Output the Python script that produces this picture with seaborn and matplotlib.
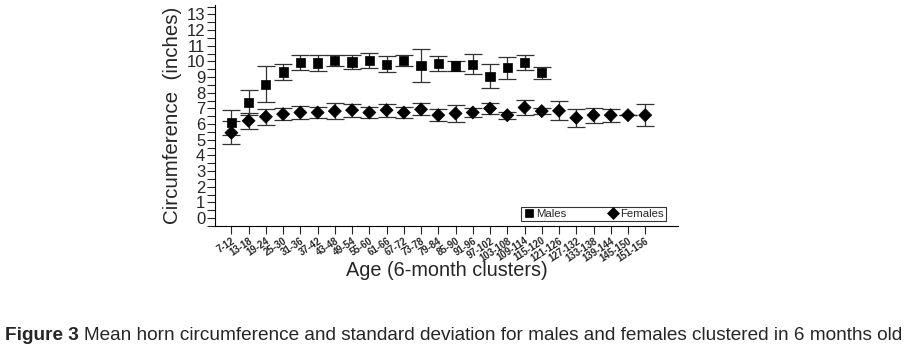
import seaborn as sns
import matplotlib.pyplot as plt
import pandas as pd
from matplotlib.ticker import MultipleLocator

# age clusters (months)
ages = ['7-12', '13-18', '19-24', '25-30', '31-36', '37-42', '43-48', '49-54',
        '55-60', '61-66', '67-72', '73-78', '79-84', '85-90', '91-96', '97-102',
        '103-108', '109-114', '115-120', '121-126', '127-132', '133-138',
        '139-144', '145-150', '151-156']

# males only measured up to 115-120
male_mean = [6.1, 7.38, 8.53, 9.33, 9.93, 9.9, 10.05, 9.97, 10.05, 9.82,
             10.07, 9.76, 9.86, 9.71, 9.82, 9.06, 9.61, 9.93, 9.27]
male_sd = [0.8, 0.8, 1.15, 0.5, 0.5, 0.5, 0.37, 0.47, 0.5, 0.5,
           0.37, 1.06, 0.5, 0.3, 0.65, 0.75, 0.7, 0.5, 0.38]

female_mean = [5.45, 6.21, 6.47, 6.64, 6.74, 6.74, 6.83, 6.89, 6.74, 6.89,
               6.74, 6.94, 6.57, 6.68, 6.74, 7.0, 6.57, 7.06, 6.83, 6.85,
               6.4, 6.57, 6.57, 6.57, 6.57]
female_sd = [0.73, 0.5, 0.5, 0.4, 0.42, 0.35, 0.5, 0.42, 0.37, 0.42,
             0.37, 0.38, 0.38, 0.53, 0.3, 0.35, 0.23, 0.5, 0.21, 0.6,
             0.58, 0.47, 0.42, 0.0, 0.69]

sns.set_style('ticks')
plt.rcParams['font.family'] = ['Liberation Sans', 'DejaVu Sans']

df = pd.concat([
    pd.DataFrame({'age': ages[:len(male_mean)], 'x': range(len(male_mean)),
                  'mean': male_mean, 'sd': male_sd, 'sex': 'Males'}),
    pd.DataFrame({'age': ages, 'x': range(len(ages)),
                  'mean': female_mean, 'sd': female_sd, 'sex': 'Females'}),
])

fig = plt.figure(figsize=(9.13, 3.51), dpi=100)
ax = fig.add_axes([215 / 913, 1 - 226 / 351, 463 / 913, 221 / 351])

for sex in ['Males', 'Females']:
    d = df[df.sex == sex]
    ax.errorbar(d.x, d['mean'], yerr=d.sd, fmt='none', ecolor='#333333',
                elinewidth=0.9, capsize=6.5, capthick=0.9, zorder=2)

sns.scatterplot(data=df, x='x', y='mean', hue='sex', style='sex',
                markers={'Males': 's', 'Females': 'D'},
                palette={'Males': 'black', 'Females': 'black'},
                s=44, edgecolor='black', linewidth=0.5, ax=ax, zorder=3,
                legend=True)

ax.set_xlim(-0.95, 25.9)
ax.set_ylim(-0.5, 13.6)
ax.set_xticks(range(len(ages)))
ax.set_xticklabels(ages, rotation=33, ha='right', rotation_mode='anchor',
                   fontsize=6.9, fontweight='bold')
ax.yaxis.set_major_locator(MultipleLocator(1))
ax.yaxis.set_minor_locator(MultipleLocator(0.5))
ax.tick_params(axis='y', labelsize=12, length=6, width=0.8, pad=1)
ax.tick_params(axis='y', which='minor', length=6, width=0.8)
ax.tick_params(axis='x', length=6, width=0.8, pad=1)
ax.set_ylabel('Circumference  (inches)', fontsize=14.8, labelpad=3)
ax.set_xlabel('Age (6-month clusters)', fontsize=14.3)
ax.xaxis.set_label_coords(0.5, -0.16)
for s in ['top', 'right']:
    ax.spines[s].set_visible(False)
for s in ['left', 'bottom']:
    ax.spines[s].set_color('black')
    ax.spines[s].set_linewidth(0.8)

leg = ax.legend(loc='lower right', ncol=2, fontsize=8.2, frameon=True,
                fancybox=False, edgecolor='black', handletextpad=0.1,
                columnspacing=3.6, borderpad=0.2, handlelength=1,
                markerscale=0.85, bbox_to_anchor=(0.986, -0.005))
leg.get_frame().set_linewidth(0.8)

fig.text(5 / 913, 1 - 335 / 351, 'Figure 3', fontsize=13.7, fontweight='bold',
         va='center', ha='left')
fig.text(84 / 913, 1 - 335 / 351,
         'Mean horn circumference and standard deviation for males and '
         'females clustered in 6 months old',
         fontsize=13.7, va='center', ha='left')

fig.savefig('out.png', dpi=100)
